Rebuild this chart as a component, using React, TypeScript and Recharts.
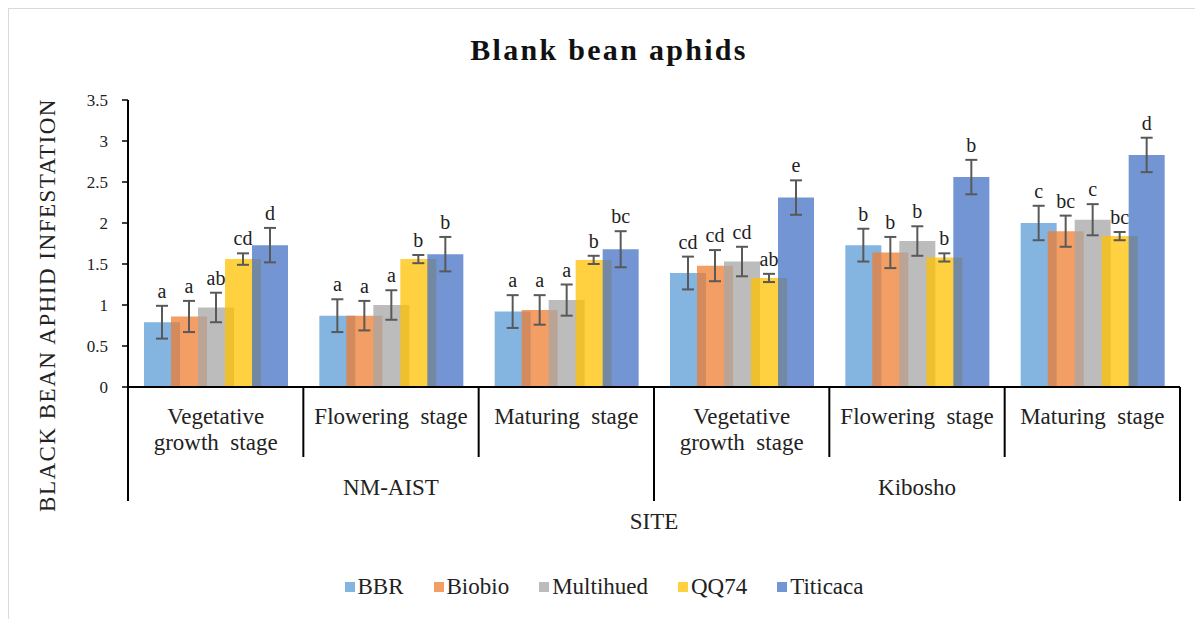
import React from 'react';
import { BarChart, Bar, XAxis, YAxis, ErrorBar, LabelList } from 'recharts';

// categories (growth stage within site)
const stages = ['Vegetative\ngrowth  stage', 'Flowering  stage', 'Maturing  stage', 'Vegetative\ngrowth  stage', 'Flowering  stage', 'Maturing  stage'];
const sites = ['NM-AIST', 'NM-AIST', 'NM-AIST', 'Kibosho', 'Kibosho', 'Kibosho'];

// mean infestation per variety
const bbr = [0.79, 0.87, 0.92, 1.39, 1.73, 2.0];
const biobio = [0.86, 0.87, 0.94, 1.48, 1.64, 1.9];
const multihued = [0.97, 1.0, 1.06, 1.53, 1.78, 2.04];
const qq74 = [1.56, 1.56, 1.55, 1.33, 1.58, 1.84];
const titicaca = [1.73, 1.62, 1.68, 2.31, 2.56, 2.83];

// standard errors
const bbrErr = [0.2, 0.2, 0.2, 0.2, 0.2, 0.21];
const biobioErr = [0.19, 0.18, 0.18, 0.19, 0.19, 0.19];
const multihuedErr = [0.18, 0.18, 0.19, 0.18, 0.18, 0.19];
const qq74Err = [0.07, 0.05, 0.05, 0.05, 0.05, 0.05];
const titicacaErr = [0.21, 0.21, 0.22, 0.21, 0.21, 0.21];

// significance letters
const bbrSig = ['a', 'a', 'a', 'cd', 'b', 'c'];
const biobioSig = ['a', 'a', 'a', 'cd', 'b', 'bc'];
const multihuedSig = ['ab', 'a', 'a', 'cd', 'b', 'c'];
const qq74Sig = ['cd', 'b', 'b', 'ab', 'b', 'bc'];
const titicacaSig = ['d', 'b', 'bc', 'e', 'b', 'd'];

const yTicks = [0, 0.5, 1, 1.5, 2, 2.5, 3, 3.5];

const series = [
  { key: 'bbr', name: 'BBR', color: '#5B9BD5', values: bbr, err: bbrErr, sig: bbrSig },
  { key: 'biobio', name: 'Biobio', color: '#ED7D31', values: biobio, err: biobioErr, sig: biobioSig },
  { key: 'multihued', name: 'Multihued', color: '#A5A5A5', values: multihued, err: multihuedErr, sig: multihuedSig },
  { key: 'qq74', name: 'QQ74', color: '#FFC000', values: qq74, err: qq74Err, sig: qq74Sig },
  { key: 'titicaca', name: 'Titicaca', color: '#4472C4', values: titicaca, err: titicacaErr, sig: titicacaSig },
];

const data = stages.map((stage, i) => {
  const row: any = { key: `${sites[i]}-${i}`, stage, site: sites[i] };
  series.forEach((s) => {
    row[s.key] = s.values[i];
    row[s.key + 'Err'] = s.err[i];
    row[s.key + 'Sig'] = s.sig[i];
  });
  return row;
});

const FONT = 'serif';
const W = 1194;
const H = 610;
const M = { top: 91, right: 23, left: 0, bottom: 102 };
const Y_W = 119;
const BAND = (W - M.left - M.right - Y_W) / stages.length;

const txt = { fontFamily: FONT, fill: '#222' };

const CategoryTick = (props: any) => {
  const { x, y, payload } = props;
  const i = payload.index;
  const lines = stages[i].split('\n');
  const last = i === stages.length - 1;
  return (
    <g>
      {lines.map((ln, k) => (
        <text key={k} x={x} y={y + 37 + k * 26} textAnchor="middle" fontSize={23} style={{ ...txt, whiteSpace: 'pre' }}>
          {ln}
        </text>
      ))}
      <line x1={x - BAND / 2} x2={x - BAND / 2} y1={y} y2={y + (i % 3 === 0 ? 114 : 70)} stroke="#000" strokeWidth={2} />
      {last && <line x1={x + BAND / 2} x2={x + BAND / 2} y1={y} y2={y + 114} stroke="#000" strokeWidth={2} />}
      {i % 3 === 1 && (
        <text x={x} y={y + 108} textAnchor="middle" fontSize={23} style={txt}>
          {sites[i]}
        </text>
      )}
      {i === 2 && (
        <text x={x + BAND / 2} y={y + 142} textAnchor="middle" fontSize={23} style={txt}>
          SITE
        </text>
      )}
    </g>
  );
};

const YTitle = () => (
  <text x={46} y={296} transform="rotate(-90 46 296)" textAnchor="middle" fontSize={23} letterSpacing={1.5} style={txt}>
    BLACK BEAN APHID INFESTATION
  </text>
);

const makeSigLabel = (s: any) => (props: any) => {
  const vb = props.viewBox || props;
  const { x, y, width, height } = vb;
  const i = props.index;
  const v = s.values[i];
  const perUnit = v ? height / v : 0;
  const top = y - s.err[i] * perUnit;
  return (
    <text x={x + width / 2} y={top - 8} textAnchor="middle" fontSize={20} style={txt}>
      {s.sig[i]}
    </text>
  );
};

export default function App() {
  return (
    <div style={{ position: 'relative', width: 1194, height: 611, borderLeft: '1px solid #d9d9d9', borderTop: '1px solid #d9d9d9', background: '#fff', fontFamily: FONT }}>
      <style>{`body{overflow:hidden}`}</style>
      <div style={{ position: 'absolute', top: 26, left: 0, width: W + 6, textAlign: 'center', fontWeight: 'bold', fontSize: 30, lineHeight: '30px', letterSpacing: 2.3, color: '#111' }}>
        Blank bean aphids
      </div>
      <BarChart width={W} height={H} data={data} margin={M} barSize={36} barGap={-9} style={{ fontFamily: FONT }}>
        <XAxis dataKey="key" interval={0} tickLine={false} tickSize={0} tickMargin={0} height={130} axisLine={{ stroke: '#000', strokeWidth: 2 }} tick={<CategoryTick />} />
        <YAxis
          width={Y_W}
          domain={[0, 3.5]}
          ticks={yTicks}
          interval={0}
          tickSize={6}
          tickMargin={14}
          axisLine={{ stroke: '#000', strokeWidth: 2 }}
          tickLine={{ stroke: '#000', strokeWidth: 1.5 }}
          tick={{ fontSize: 17, fill: '#222', style: txt }}
          label={<YTitle />}
        />
        {series.map((s) => (
          <Bar key={s.key} dataKey={s.key} name={s.name} fill={s.color} fillOpacity={0.75} isAnimationActive={false}>
            <ErrorBar dataKey={s.key + 'Err'} width={6} stroke="#595959" strokeWidth={2} direction="y" />
            <LabelList dataKey={s.key + 'Sig'} content={makeSigLabel(s)} />
          </Bar>
        ))}
      </BarChart>
      <div style={{ position: 'absolute', top: 565, left: 0, width: W + 26, display: 'flex', justifyContent: 'center', fontSize: 23, color: '#222' }}>
        {series.map((s) => (
          <div key={s.key} style={{ display: 'flex', alignItems: 'center', marginRight: 30 }}>
            <span style={{ display: 'inline-block', width: 10, height: 10, background: s.color, opacity: 0.75, marginRight: 3 }} />
            <span>{s.name}</span>
          </div>
        ))}
      </div>
    </div>
  );
}
